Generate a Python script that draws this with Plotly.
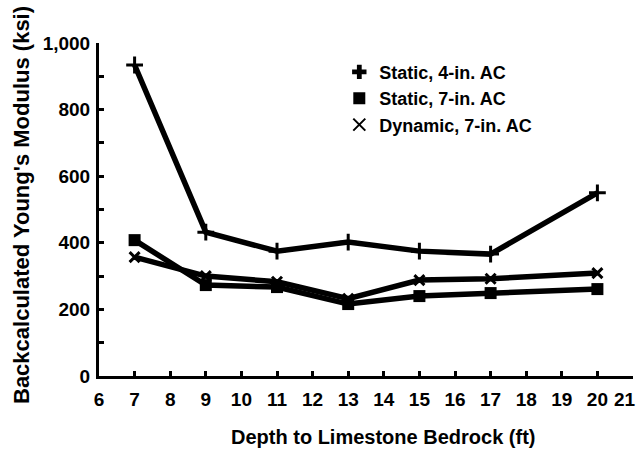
import plotly.graph_objects as go

depth = [7, 9, 11, 13, 15, 17, 20]
static_4in = [934, 432, 375, 402, 375, 366, 550]
static_7in = [408, 273, 267, 216, 240, 249, 261]
dynamic_7in = [357, 300, 283, 232, 288, 292, 309]

names = ["Static, 4-in. AC", "Static, 7-in. AC", "Dynamic, 7-in. AC"]
x_ticks = list(range(6, 22))
x_ticktext = [str(v) for v in x_ticks[:-1]] + [""]   # last label drawn separately to stay inside
y_ticks = list(range(0, 1001, 100))
y_ticktext = ["0", "", "200", "", "400", "", "600", "", "800", "", "1,000"]
x_title = "Depth to Limestone Bedrock (ft)"
y_title = "Backcalculated Young's Modulus (ksi)"

FONT = "Liberation Sans, Arial, Helvetica, sans-serif"
LW = 5.5

fig = go.Figure()
# data lines (hidden from legend)
fig.add_trace(go.Scatter(x=depth, y=static_4in, mode="lines+markers", showlegend=False,
                         line=dict(color="black", width=LW),
                         marker=dict(symbol="cross-thin", size=12, color="black",
                                     line=dict(color="black", width=3))))
fig.add_trace(go.Scatter(x=depth, y=static_7in, mode="lines+markers", showlegend=False,
                         line=dict(color="black", width=LW),
                         marker=dict(symbol="square", size=12, color="black")))
fig.add_trace(go.Scatter(x=depth, y=dynamic_7in, mode="lines+markers", showlegend=False,
                         line=dict(color="black", width=LW),
                         marker=dict(symbol="x-thin", size=10, color="black",
                                     line=dict(color="black", width=3))))
# legend entries: markers only
fig.add_trace(go.Scatter(x=[None], y=[None], mode="markers", name=names[0],
                         marker=dict(symbol="cross", size=12, color="black")))
fig.add_trace(go.Scatter(x=[None], y=[None], mode="markers", name=names[1],
                         marker=dict(symbol="square", size=12, color="black")))
fig.add_trace(go.Scatter(x=[None], y=[None], mode="markers", name=names[2],
                         marker=dict(symbol="x-thin", size=11, color="black",
                                     line=dict(color="black", width=3.5))))

fig.update_layout(
    width=638, height=457,
    margin=dict(l=99, r=5, t=43, b=81, autoexpand=False),
    paper_bgcolor="white", plot_bgcolor="white",
    font=dict(family=FONT, color="black", size=18, weight="bold"),
    showlegend=True,
    legend=dict(x=0.45, y=0.968, xanchor="left", yanchor="top",
                font=dict(size=18, family=FONT, weight="bold"), bgcolor="rgba(0,0,0,0)",
                itemsizing="constant", tracegroupgap=0),
    xaxis=dict(range=[6, 21], tickmode="array", tickvals=x_ticks, ticktext=x_ticktext,
               automargin=False,
               showgrid=False, zeroline=False, showline=True, linecolor="black",
               linewidth=3, ticks="inside", ticklen=5, tickwidth=3, tickcolor="black",
               tickfont=dict(size=19, weight="bold"), ticklabelstandoff=4),
    yaxis=dict(range=[0, 1000], tickmode="array", tickvals=y_ticks, ticktext=y_ticktext,
               automargin=False,
               showgrid=False, zeroline=False, showline=True, linecolor="black",
               linewidth=3, ticks="inside", ticklen=5, tickwidth=3, tickcolor="black",
               tickfont=dict(size=19, weight="bold"), ticklabelstandoff=2),
    annotations=[
        dict(text=str(x_ticks[-1]), xref="x", yref="paper", x=x_ticks[-1], y=0,
             xanchor="right", yanchor="middle", yshift=-23, xshift=5, showarrow=False,
             font=dict(size=19, weight="bold")),
        dict(text=x_title, xref="paper", yref="paper", x=(383 - 99) / 534,
             y=-(437 - 376) / 333, xanchor="center", yanchor="middle", showarrow=False,
             font=dict(size=20, weight="bold")),
        dict(text=y_title, xref="paper", yref="paper", x=-(99 - 21) / 534,
             y=(376 - 205) / 333, xanchor="center", yanchor="middle", showarrow=False,
             textangle=-90, font=dict(size=22, weight="bold")),
    ],
)

fig.write_html("out.html")
